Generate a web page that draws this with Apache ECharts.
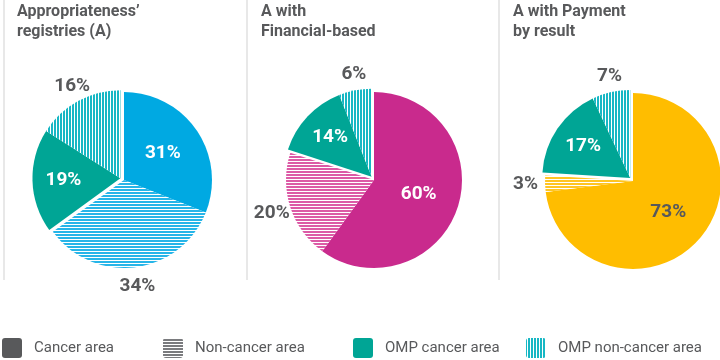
<!DOCTYPE html>
<html>
<head>
<meta charset="utf-8">
<style>
  html, body { margin: 0; padding: 0; background: #fff; }
  #main { width: 720px; height: 360px; }
</style>
<script src="https://cdn.jsdelivr.net/npm/echarts@6/dist/echarts.min.js"></script>
</head>
<body>
<div id="main"></div>
<script>
const categories = ['Cancer area', 'Non-cancer area', 'OMP cancer area', 'OMP non-cancer area'];
const titles = ['Appropriateness\u2019\nregistries (A)', 'A with\nFinancial-based', 'A with Payment\nby result'];
const registryValues = [31, 34, 19, 16];
const financialValues = [60, 20, 14, 6];
const paymentValues = [73, 3, 17, 7];

const chart = echarts.init(document.getElementById('main'), null, { renderer: 'canvas' });

const gray = '#58595b';
const clear = 'rgba(0,0,0,0)';
const R = 88;

// striped fill, 2px colour + 1px white
function stripes(color, vertical) {
  const c = document.createElement('canvas');
  c.width = 3; c.height = 3;
  const ctx = c.getContext('2d');
  ctx.fillStyle = '#fff';
  ctx.fillRect(0, 0, 3, 3);
  ctx.fillStyle = color;
  if (vertical) ctx.fillRect(0, 0, 2, 3); else ctx.fillRect(0, 0, 3, 2);
  return { image: c, repeat: 'repeat' };
}

const pies = [
  { values: registryValues, center: [124, 180], main: '#00a9e2', light: '#26b5e8', inLabel: '#fff' },
  { values: financialValues, center: [374, 180], main: '#c92a8d', light: '#dc5aa6', inLabel: '#fff' },
  { values: paymentValues, center: [633, 181], main: '#ffbd00', light: '#ffc522', inLabel: gray }
];
const ompColor = '#00a595';
const ompStripe = stripes('#17b7c4', true);

const labelBase = { fontFamily: 'Roboto', fontWeight: 'bold', fontSize: 19 };

let series = [];
pies.forEach(function (p) {
  const v = p.values;
  const sum = v.reduce(function (a, b) { return a + b; }, 0);
  // explode the OMP group along its bisector
  const mid = ((v[0] + v[1]) / sum + 1) / 2 * Math.PI * 2;
  const off = [p.center[0] + Math.sin(mid) * 4, p.center[1] - Math.cos(mid) * 4];
  const fills = [p.main, stripes(p.light, false), ompColor, ompStripe];

  function item(i, visible, labelOn, color) {
    return {
      name: categories[i],
      value: v[i],
      itemStyle: { color: visible ? fills[i] : clear, borderWidth: 0 },
      label: { show: labelOn, color: color }
    };
  }
  const common = {
    type: 'pie',
    silent: true,
    animation: false,
    avoidLabelOverlap: false,
    labelLine: { show: false },
    emphasis: { disabled: true },
    label: Object.assign({ position: 'inside', formatter: '{c}%' }, labelBase)
  };

  // cancer / non-cancer slices
  series.push(Object.assign({}, common, {
    center: p.center, radius: [0, R],
    data: [item(0, true, true, p.inLabel), item(1, true, false), item(2, false, false), item(3, false, false)]
  }));
  // OMP slices, pushed out
  series.push(Object.assign({}, common, {
    center: off, radius: [0, R],
    data: [item(0, false, false), item(1, false, false), item(2, true, false), item(3, true, false)]
  }));
  // OMP cancer label
  series.push(Object.assign({}, common, {
    center: off, radius: [20, R],
    data: [item(0, false, false), item(1, false, false), item(2, false, true, '#fff'), item(3, false, false)]
  }));
  // outside labels
  series.push(Object.assign({}, common, {
    center: p.center, radius: [R + 5, R + 28],
    data: [item(0, false, false), item(1, false, true, gray), item(2, false, false), item(3, false, true, gray)]
  }));
});

const titleX = [17, 261, 513];
const sepX = [3, 246, 498];
const legendX = [2, 163, 353, 526];
const legendFill = ['#58595b', stripes('#7a7b7e', false), ompColor, ompStripe];

let graphic = [];
sepX.forEach(function (x) {
  graphic.push({ type: 'rect', shape: { x: x, y: 0, width: 2, height: 280 }, style: { fill: '#e8e8e8' }, silent: true });
});
legendX.forEach(function (x, i) {
  graphic.push({ type: 'rect', shape: { x: x, y: 338, width: 20, height: 20, r: 3 }, style: { fill: legendFill[i] }, silent: true });
  graphic.push({
    type: 'text', x: x + 32, y: 348,
    style: { text: categories[i], font: '15px Roboto', fill: gray, verticalAlign: 'middle' },
    silent: true
  });
});

const option = {
  backgroundColor: '#fff',
  animation: false,
  title: titles.map(function (t, i) {
    return {
      text: t, left: titleX[i], top: 2, padding: 0,
      textStyle: { fontFamily: 'Roboto', fontWeight: 'bold', fontSize: 16, lineHeight: 20, color: gray }
    };
  }),
  series: series,
  graphic: graphic
};
chart.setOption(option);
</script>
</body>
</html>
